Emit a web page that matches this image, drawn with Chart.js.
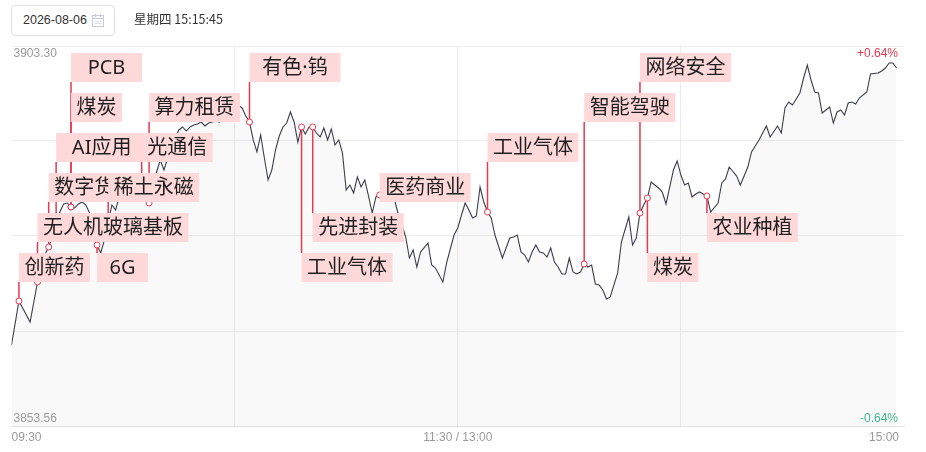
<!DOCTYPE html>
<html>
<head>
<meta charset="utf-8">
<script src="https://cdn.jsdelivr.net/npm/chart.js@4/dist/chart.umd.min.js"></script>
<style>
  html, body { margin: 0; padding: 0; background: #fff; }
  body { width: 926px; height: 452px; position: relative; overflow: hidden;
         font-family: "Liberation Sans", Arial, "Noto Sans CJK SC", sans-serif; }
  #chart { position: absolute; left: 0; top: 0; }
  .datebox { position: absolute; left: 11px; top: 5px; width: 104px; height: 31px; box-sizing: border-box;
             border: 1px solid #dcdfe6; border-radius: 4px; background: #fff; }
  .datebox span { position: absolute; left: 11px; top: 7px; font-size: 12.5px; color: #333; }
  .datebox svg { position: absolute; left: 80px; top: 8px; }
  .weekday { position: absolute; left: 134px; top: 12px; font-size: 12.5px; color: #333;
             font-family: "Noto Sans CJK SC", "Liberation Sans", sans-serif; line-height: 14px; }
</style>
</head>
<body>
<canvas id="chart" width="926" height="452"></canvas>
<div class="datebox"><span>2026-08-06</span>
  <svg width="12" height="13" viewBox="0 0 12 13">
    <rect x="0.5" y="1.5" width="11" height="11" fill="none" stroke="#c8ccd4" stroke-width="1"/>
    <line x1="0.5" y1="4.5" x2="11.5" y2="4.5" stroke="#c8ccd4"/>
    <line x1="3.5" y1="0" x2="3.5" y2="3" stroke="#c8ccd4"/>
    <line x1="8.5" y1="0" x2="8.5" y2="3" stroke="#c8ccd4"/>
    <line x1="2.5" y1="7.5" x2="9.5" y2="7.5" stroke="#dde0e6"/>
    <line x1="2.5" y1="9.5" x2="9.5" y2="9.5" stroke="#dde0e6"/>
  </svg>
</div>
<div class="weekday">星期四 15:15:45</div>
<script>
// Trading minutes since 09:30 (0..240, the lunch break collapsed at 120)
const minutes = [
  0,2,5,7,8,10,11,12,13,14,15,16,17,18,19,20,21,22,23,24,25,26,27,28,29,30,31,32,33,34,35,36,37,38,39,40,
  41,42,43,44,45,46,47,48,49,50,51,52,53,54,55,56,57,58,59,60,61,62,63,64,
  65,66,67,68,69,70,71,72,73,74,75,76,77,78,79,80,81,82,83,84,85,86,87,88,89,90,91,92,93,94,95,96,97,98,99,
  100,101,102,103,104,105,106,107,108,109,110,112,113,114,116,117,119,120,121,122,123,124,125,126,127,128,
  129,130,132,133,134,135,136,137,138,139,140,
  141,142,143,144,145,146,147,148,149,150,151,152,153,154,155,156,157,158,159,160,161,163,164,166,167,168,
  169,170,171,172,174,175,176,177,178,179,180,181,182,183,184,185,186,187,188,
  190,191,192,193,195,196,198,199,200,201,202,203,204,206,207,208,209,210,212,213,214,215,216,217,218,
  220,221,222,223,224,225,226,227,228,230,231,233,234,235,236,237,238
];
// Index level at each of those minutes
const prices = [
  3864.16,3869.92,3867.17,3872.41,3875.03,3876.99,3878.43,3879.87,3881.57,3882.62,3882.75,3882.23,3882.10,
  3882.62,3882.88,3882.49,3881.44,3878.95,3877.25,3876.21,3877.91,3880.26,3882.49,3881.83,3883.67,3884.71,
  3883.80,3885.24,3884.45,3884.98,3884.19,3883.40,3882.75,3885.11,3886.81,3888.38,
  3887.07,3888.64,3889.95,3891.26,3892.31,3892.70,3892.17,3892.70,3892.96,3893.09,3893.35,3892.83,3893.22,
  3893.35,3893.48,3893.35,3893.88,3894.53,3895.05,3895.45,3895.58,3895.19,3894.14,3893.35,
  3891.00,3889.43,3891.65,3888.64,3885.76,3887.07,3889.69,3891.52,3892.70,3893.22,3894.66,3893.35,3890.73,
  3892.70,3891.78,3892.70,3892.70,3891.91,3891.39,3892.57,3891.00,3892.44,3890.34,3891.00,3889.29,3884.45,
  3885.11,3884.06,3886.15,3884.84,3885.76,3883.67,3881.44,3883.54,3883.80,
  3884.45,3885.24,3884.19,3883.14,3881.31,3879.87,3878.30,3875.55,3876.60,3874.37,3876.34,3877.51,3874.63,
  3874.24,3872.41,3874.90,3878.56,3879.48,3881.18,3882.75,3881.83,3880.79,3881.05,3884.84,3882.88,3881.57,
  3880.79,3878.56,3875.55,3876.86,3878.17,3878.30,3878.56,3876.34,3875.94,3875.03,3876.34,
  3877.25,3876.34,3876.21,3875.68,3876.86,3875.03,3874.37,3873.46,3873.46,3875.55,3873.72,3873.46,3873.72,
  3874.77,3874.37,3874.63,3872.15,3872.02,3871.36,3870.18,3870.45,3873.59,3877.64,3880.92,3877.25,3878.17,
  3881.44,3882.49,3883.40,3885.50,3884.71,3884.19,3882.62,3884.84,3887.07,3888.25,3886.41,3885.11,3885.37,
  3883.54,3883.93,3884.19,3883.93,3883.67,3881.57,
  3882.75,3885.37,3885.89,3887.46,3886.28,3885.11,3887.46,3889.43,3890.21,3891.00,3891.91,3892.83,3891.39,
  3892.83,3891.91,3895.19,3895.97,3895.58,3897.15,3899.11,3900.81,3898.85,3897.28,3897.15,3894.53,
  3895.32,3893.22,3894.66,3894.92,3894.27,3895.84,3895.97,3895.71,3896.49,3897.28,3899.64,3899.77,3900.03,
  3900.42,3901.07,3901.07,3900.42
];

// Sector tags: name, minute it fired, tier it is stacked on (0 = top)
const sectorNames   = ['创新药','无人机玻璃基板','数字货币','AI应用','PCB','煤炭','6G','稀土永磁','光通信','算力租赁',
                       '有色·钨','工业气体','先进封装','医药商业','工业气体','智能驾驶','网络安全','煤炭','农业种植'];
const sectorMinutes = [2,7,10,12,16,16,23,26,35,37,64,78,81,99,128,154,169,171,187];
const sectorTiers   = [5,4,3,2,0,1,5,3,2,1,0,5,4,3,2,1,0,5,4];

// Price band shown on the axis; the previous close sits in the middle
const priceHigh = 3903.30;
const priceLow  = 3853.56;
const timeLabels = ['09:30', '11:30 / 13:00', '15:00'];

const prevClose = (priceHigh + priceLow) / 2;
const pct = v => ((v / prevClose - 1) * 100);

const points = minutes.map((m, i) => ({ x: m, y: prices[i] }));

const RED = '#e8384f';

const overlay = {
  id: 'overlay',
  afterDatasetsDraw(chart) {
    const { ctx, chartArea: a, scales: { x, y } } = chart;
    ctx.save();

    // axis texts
    ctx.font = '12px "Liberation Sans", Arial, sans-serif';
    ctx.textBaseline = 'middle';
    ctx.fillStyle = '#9a9a9a';
    ctx.textAlign = 'left';
    ctx.fillText(priceHigh.toFixed(2), a.left + 2, y.getPixelForValue(priceHigh) + 7.5);
    ctx.fillText(priceLow.toFixed(2), a.left + 2, y.getPixelForValue(priceLow) - 7);
    ctx.textAlign = 'right';
    ctx.fillStyle = RED;
    ctx.fillText('+' + pct(priceHigh).toFixed(2) + '%', a.right - 6, y.getPixelForValue(priceHigh) + 7.5);
    ctx.fillStyle = '#3fb58e';
    ctx.fillText(pct(priceLow).toFixed(2) + '%', a.right - 6, y.getPixelForValue(priceLow) - 7);

    ctx.fillStyle = '#9a9a9a';
    const ty = a.bottom + 12;
    ctx.textAlign = 'left';
    ctx.fillText(timeLabels[0], x.getPixelForValue(0), ty);
    ctx.textAlign = 'center';
    ctx.fillText(timeLabels[1], x.getPixelForValue(120), ty);
    ctx.textAlign = 'right';
    ctx.fillText(timeLabels[2], a.right - 5, ty);

    // sector tags
    const tagH = 29, tierGap = 40, fs = 20;
    const tags = sectorNames.map((name, i) => {
      const m = sectorMinutes[i];
      const v = prices[minutes.indexOf(m)];
      const px = x.getPixelForValue(m);
      const py = y.getPixelForValue(v);
      const top = a.top + 7 + tierGap * sectorTiers[i];
      return { name, px, py, top, w: name.length * fs + 11 };
    });

    // leader lines
    ctx.strokeStyle = RED;
    ctx.lineWidth = 1.5;
    tags.forEach(t => {
      const bottom = t.top + tagH;
      let end = null;
      if (t.py < t.top) end = t.top;
      else if (t.py > bottom) end = bottom;
      if (end !== null) {
        ctx.beginPath();
        ctx.moveTo(t.px, t.py);
        ctx.lineTo(t.px, end);
        ctx.stroke();
      }
    });

    // markers
    ctx.lineWidth = 1;
    tags.forEach(t => {
      ctx.beginPath();
      ctx.arc(t.px, t.py, 3, 0, Math.PI * 2);
      ctx.fillStyle = '#fff';
      ctx.fill();
      ctx.stroke();
    });

    // boxes
    ctx.font = fs + 'px "Noto Sans", "Noto Sans CJK SC", sans-serif';
    ctx.textAlign = 'center';
    ctx.textBaseline = 'middle';
    tags.forEach(t => {
      ctx.fillStyle = '#ffd9da';
      ctx.fillRect(t.px, t.top, t.w, tagH);
      ctx.fillStyle = '#1e1e1e';
      ctx.fillText(t.name, t.px + t.w / 2, t.top + tagH / 2 + 1);
    });

    ctx.restore();
  }
};

new Chart(document.getElementById('chart'), {
  type: 'line',
  data: {
    datasets: [{
      data: points,
      borderColor: '#3b3e4a',
      borderWidth: 1.1,
      pointRadius: 0,
      tension: 0,
      fill: 'start',
      backgroundColor: 'rgba(0,0,0,0.022)'
    }]
  },
  options: {
    responsive: false,
    animation: false,
    devicePixelRatio: 1,
    layout: { padding: { left: 11.5, right: 22, top: 46, bottom: 0 } },
    plugins: { legend: { display: false }, tooltip: { enabled: false } },
    scales: {
      x: {
        type: 'linear', min: 0, max: 240,
        afterBuildTicks: s => { s.ticks = [0, 60, 120, 180, 240].map(v => ({ value: v })); },
        afterFit: s => { s.height = 26; },
        ticks: { display: false },
        grid: {
          drawTicks: false,
          color: c => (c.tick && (c.tick.value === 0 || c.tick.value === 240)) ? 'rgba(0,0,0,0)' : '#ececec'
        },
        border: { display: true, color: '#e2e2e2' }
      },
      y: {
        min: priceLow, max: priceHigh,
        afterBuildTicks: s => {
          const step = (priceHigh - priceLow) / 4;
          s.ticks = [0, 1, 2, 3, 4].map(k => ({ value: priceLow + k * step }));
        },
        afterFit: s => { s.width = 0; },
        ticks: { display: false },
        grid: { drawTicks: false, color: '#ececec' },
        border: { display: false }
      }
    }
  },
  plugins: [overlay]
});
</script>
</body>
</html>
